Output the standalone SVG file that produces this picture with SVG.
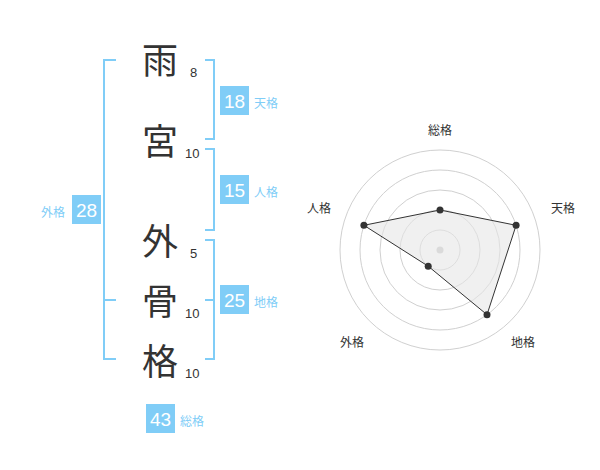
<svg xmlns="http://www.w3.org/2000/svg" width="600" height="470" viewBox="0 0 600 470">
<style>
.big{font-family:"Noto Sans CJK JP","Noto Sans CJK SC",sans-serif;font-size:36px;fill:#333;text-anchor:middle}
.num{font-family:"Liberation Sans",Arial,sans-serif;font-size:13px;fill:#333}
.br{fill:none;stroke:#80cdf7;stroke-width:2}
.box{fill:#80cdf7}
.bn{font-family:"Liberation Sans",Arial,sans-serif;font-size:19px;fill:#fff;text-anchor:middle}
.bl{font-family:"Noto Sans CJK JP","Noto Sans CJK SC",sans-serif;font-size:12px;fill:#80cdf7}
.ring{fill:none;stroke:#d0d0d0;stroke-width:1}
.rl{font-family:"Noto Sans CJK JP","Noto Sans CJK SC",sans-serif;font-size:12px;fill:#333;text-anchor:middle}
.pt{fill:#333}
</style>
<g id="connectors">
<path class="br" d="M116,60 H104 V359 H116 M104,300 H116"/>
<path class="br" d="M205,60 H214 V139 H205"/>
<path class="br" d="M205,149 H214 V230 H205"/>
<path class="br" d="M205,240 H214 V359 H205 M205,300 H214"/>
</g>
<g id="chars">
<text class="big" x="160" y="74">雨</text>
<text class="num" x="190" y="77">8</text>
<text class="big" x="160" y="155">宮</text>
<text class="num" x="185" y="158">10</text>
<text class="big" x="160" y="255">外</text>
<text class="num" x="190" y="258">5</text>
<text class="big" x="160" y="315">骨</text>
<text class="num" x="185" y="318">10</text>
<text class="big" x="160" y="375">格</text>
<text class="num" x="185" y="378">10</text>
</g>
<g id="tenkaku"><rect class="box" x="220" y="86" width="29" height="29"/><text class="bn" x="234.5" y="108">18</text><text class="bl" x="254" y="108">天格</text></g>
<g id="jinkaku"><rect class="box" x="220" y="175" width="29" height="29"/><text class="bn" x="234.5" y="197">15</text><text class="bl" x="254" y="197">人格</text></g>
<g id="chikaku"><rect class="box" x="220" y="285" width="29" height="29"/><text class="bn" x="234.5" y="307">25</text><text class="bl" x="254" y="307">地格</text></g>
<g id="gaikaku"><rect class="box" x="72" y="195" width="29" height="29"/><text class="bn" x="86.5" y="217">28</text><text class="bl" x="41" y="217">外格</text></g>
<g id="soukaku"><rect class="box" x="146" y="404" width="29" height="29"/><text class="bn" x="160.5" y="426">43</text><text class="bl" x="180" y="426">総格</text></g>
<g id="radar">
<circle class="ring" cx="440" cy="250" r="20"/>
<circle class="ring" cx="440" cy="250" r="40"/>
<circle class="ring" cx="440" cy="250" r="60"/>
<circle class="ring" cx="440" cy="250" r="80"/>
<circle class="ring" cx="440" cy="250" r="100"/>
<circle cx="440" cy="250" r="3.5" fill="#c8c8c8"/>
<polygon points="440,210 516.1,225.3 487,314.7 428.2,266.2 363.9,225.3" fill="#e6e6e6" fill-opacity="0.6" stroke="#333" stroke-width="1"/>
<circle class="pt" cx="440" cy="210" r="3.5"/>
<circle class="pt" cx="516.1" cy="225.3" r="3.5"/>
<circle class="pt" cx="487" cy="314.7" r="3.5"/>
<circle class="pt" cx="428.2" cy="266.2" r="3.5"/>
<circle class="pt" cx="363.9" cy="225.3" r="3.5"/>
<text class="rl" x="440" y="135">総格</text>
<text class="rl" x="563" y="213">天格</text>
<text class="rl" x="319" y="213">人格</text>
<text class="rl" x="352" y="347">外格</text>
<text class="rl" x="523" y="347">地格</text>
</g>
</svg>
